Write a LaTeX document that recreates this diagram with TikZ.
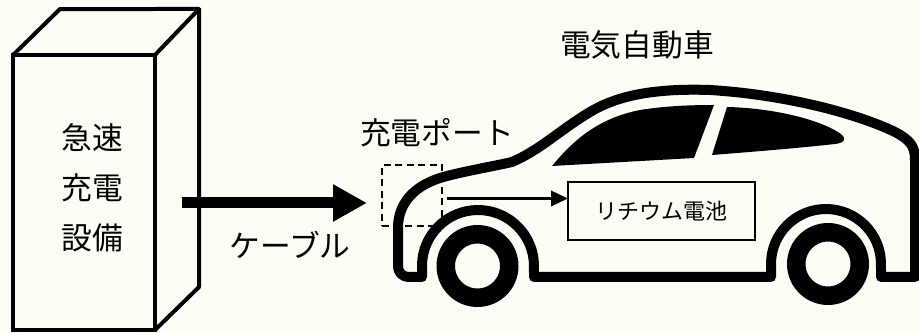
\documentclass[tikz,border=0pt]{standalone}
\usepackage{fontspec}
\setmainfont{Noto Sans CJK JP}
\usetikzlibrary{arrows.meta}
\definecolor{paper}{RGB}{253,253,246}

\begin{document}
\begin{tikzpicture}[x=0.02cm,y=-0.02cm,
  jp/.style={font=\fontsize{17.5}{28.4}\selectfont},
  body/.style={line width=0.2cm,line join=round},
  wheel/.style={line width=0.37cm}]
  \fill[paper] (0,0) rectangle (919,333);
  \useasboundingbox (0,0) rectangle (919,333);
  % charger unit
  \node[draw,line width=0.08cm,outer sep=0,minimum width=2.84cm,minimum height=5.5cm] (unit) at (84,192.5) {};
  \draw[line width=0.08cm,line join=round] (unit.north west) -- ++(47,-46) -- (199,9) -- (unit.north east) (199,9) -- (199,287) -- (unit.south east);
  \node[jp,align=center] (unitlabel) at (92,188) {急速\\充電\\設備};
  % cable
  \coordinate (cablefrom) at (182,203);
  \coordinate (cableto) at (367,203);
  \draw[line width=0.22cm,-{Triangle[length=0.68cm,width=0.7cm]}] (cablefrom) -- (cableto);
  \node[jp] (cable) at (290,245) {ケーブル};
  % port
  \node[draw,dash pattern=on 0.14cm off 0.09cm,line width=0.04cm,outer sep=0,minimum width=1.2cm,minimum height=1.22cm] (port) at (412,195.5) {};
  \node[jp] (portlabel) at (437,133) {充電ポート};
  % car
  \draw[body] (512,162) .. controls (490,167) and (460,172) .. (440,178)
    .. controls (412,187) and (398,205) .. (398,228) -- (398,265)
    .. controls (398,273) and (402,277) .. (410,277) -- (422,277) -- (422,266)
    arc[start angle=180,end angle=0,radius=1.12cm] -- (534,277) -- (771,277) -- (771,264)
    arc[start angle=180,end angle=0,radius=1.1cm] -- (881,277) -- (915,277) -- (915,160)
    .. controls (915,146) and (910,140) .. (895,132)
    .. controls (860,115) and (790,95) .. (710,90)
    .. controls (650,88) and (615,97) .. (590,112)
    .. controls (560,130) and (540,150) .. (512,162) -- cycle;
  \fill (552,166) .. controls (575,138) and (600,118) .. (640,110) .. controls (665,106) and (690,105) .. (714,105) -- (694,158) -- cycle;
  \fill (712,155) -- (727,107) .. controls (770,108) and (815,118) .. (838,132) .. controls (848,138) and (845,143) .. (835,144) .. controls (800,148) and (750,152) .. (712,155) -- cycle;
  \draw[wheel] (477.5,266) circle[radius=0.635cm];
  \draw[wheel] (828,264) circle[radius=0.635cm];
  \node[jp] (ev) at (637,45) {電気自動車};
  % battery
  \node[draw,line width=0.04cm,outer sep=0,minimum width=3.74cm,minimum height=1.16cm,font=\fontsize{12.5}{15}\selectfont] (battery) at (661.5,211) {リチウム電池};
  \coordinate (portout) at (447,198.5);
  \draw[line width=0.07cm,-{Triangle[length=0.34cm,width=0.3cm]}] (portout) -- (portout -| battery.west);
\end{tikzpicture}
\end{document}
